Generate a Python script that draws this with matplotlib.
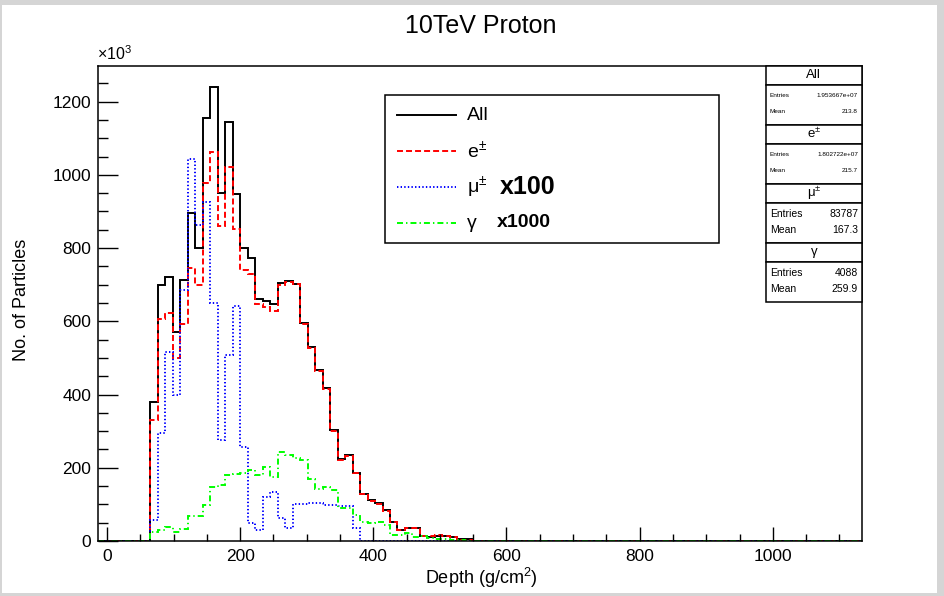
import numpy as np
import matplotlib
matplotlib.use("Agg")
import matplotlib.pyplot as plt
from matplotlib.patches import Rectangle
from matplotlib.lines import Line2D

plt.rcParams['font.family'] = ['Liberation Sans', 'DejaVu Sans']
plt.rcParams['mathtext.fontset'] = 'custom'
plt.rcParams['mathtext.rm'] = 'Liberation Sans'
plt.rcParams['mathtext.it'] = 'Liberation Sans:italic'
plt.rcParams['lines.scale_dashes'] = False

# --- data (counts in units of 10^3, per depth bin) ---
bin_lo, bin_hi, n_bins = -13.5, 1133.5, 102
first_bin = 7  # index of first filled bin (~65 g/cm2)

all_vals = [379, 699, 722, 572, 713, 897, 800, 1155, 1240, 950, 1145, 948, 800, 774,
            662, 655, 647, 705, 710, 703, 595, 530, 466, 418, 303, 225, 235, 187,
            129, 111, 103, 85, 53, 30, 36, 36, 14, 12, 14, 14, 10, 5, 5]
ele_vals = [330, 607, 624, 501, 592, 745, 698, 977, 1062, 859, 1021, 853, 741, 730,
            646, 639, 628, 698, 706, 701, 592, 527, 463, 415, 300, 222, 232, 185,
            127, 109, 101, 83, 51, 29, 35, 35, 14, 13, 16, 15, 10, 4, 4]
mu_vals = [57, 294, 516, 398, 685, 1044, 862, 925, 650, 277, 507, 643, 257, 50,
           30, 120, 134, 62, 35, 100, 101, 103, 104, 98, 97, 96, 95, 35]
gam_vals = [24, 30, 37, 24, 32, 69, 68, 98, 148, 153, 180, 183, 186, 193,
            180, 203, 175, 243, 235, 228, 221, 168, 141, 148, 139, 89, 89, 70,
            52, 50, 52, 45, 16, 16, 21, 12, 14, 8, 5, 5, 3, 3]

stats = [("All", "1.953667e+07", "213.8", 4.6),
         (r"e$^{\pm}$", "1.802722e+07", "215.7", 4.6),
         (r"μ$^{\pm}$", "83787", "167.3", 7.5),
         ("γ", "4088", "259.9", 7.5)]

edges = np.linspace(bin_lo, bin_hi, n_bins + 1)


def full(vals):
    h = np.zeros(n_bins)
    h[first_bin:first_bin + len(vals)] = vals
    return h


W, H = 944, 596
fig = plt.figure(figsize=(W / 100, H / 100), dpi=100)
fig.patch.set_facecolor('#d5d5d5')


def fx(x):
    return x / W


def fy(y):
    return 1 - y / H


# white canvas
fig.patches.append(Rectangle((fx(2), fy(593)), fx(937) - fx(2), fy(5) - fy(593),
                             transform=fig.transFigure, facecolor='white',
                             edgecolor='none', zorder=-5))

ax = fig.add_axes([fx(98), fy(541), fx(861.7) - fx(98), fy(65.7) - fy(541)])
ax.set_facecolor('white')

lw = 1.4
ax.stairs(full(all_vals), edges, color='black', lw=lw, baseline=None)
ax.stairs(full(ele_vals), edges, color='#ff0000', lw=lw, baseline=None,
          linestyle=(0, (4.3, 2.2)))
ax.stairs(full(mu_vals), edges, color='#0000ff', lw=lw, baseline=None,
          linestyle=(0, (1.0, 1.6)))
ax.stairs(full(gam_vals), edges, color='#00ff00', lw=lw, baseline=None,
          linestyle=(0, (4.3, 2.2, 1.0, 2.2)))

ax.set_xlim(bin_lo, bin_hi)
ax.set_ylim(0, 1298)
ax.set_xticks(np.arange(0, 1001, 200))
ax.set_xticks(np.arange(0, 1134, 50), minor=True)
ax.set_yticks(np.arange(0, 1201, 200))
ax.set_yticks(np.arange(0, 1298, 50), minor=True)
ax.tick_params(axis='both', which='both', direction='in', top=False, right=False,
               labelsize=12.5, width=1.0, colors='black')
ax.tick_params(axis='x', which='major', length=10, pad=6)
ax.tick_params(axis='x', which='minor', length=5)
ax.tick_params(axis='y', which='major', length=14.5, pad=5)
ax.tick_params(axis='y', which='minor', length=7.2)
for s in ax.spines.values():
    s.set_linewidth(1.1)

fig.text(fx(481), fy(26), "10TeV Proton", ha='center', va='center', fontsize=18)
fig.text(fx(97), fy(54), r"$\times$10$^{3}$", ha='left', va='center', fontsize=11.5)
fig.text(fx(22), fy(300), "No. of Particles", ha='center', va='center',
         rotation=90, fontsize=13)
fig.text(fx(481), fy(578), "Depth (g/cm$^{2}$)", ha='center', va='center', fontsize=13)

# legend box
fig.patches.append(Rectangle((fx(385), fy(243)), fx(719) - fx(385), fy(95) - fy(243),
                             transform=fig.transFigure, facecolor='white',
                             edgecolor='black', lw=1.1, zorder=5))
leg_rows = [("All", 'black', '-', 115),
            (r"e$^{\pm}$", '#ff0000', (0, (4.3, 2.2)), 151),
            (r"μ$^{\pm}$", '#0000ff', (0, (1.0, 1.6)), 187),
            ("γ", '#00ff00', (0, (4.3, 2.2, 1.0, 2.2)), 223)]
for label, col, ls, y in leg_rows:
    fig.lines.append(Line2D([fx(397), fx(456)], [fy(y), fy(y)], color=col, lw=lw,
                            linestyle=ls, transform=fig.transFigure, zorder=6))
    fig.text(fx(467), fy(y), label, ha='left', va='center', fontsize=14, zorder=6)
fig.text(fx(500), fy(187), "x100", ha='left', va='center', fontsize=18,
         fontweight='bold', zorder=6)
fig.text(fx(497), fy(222), "x1000", ha='left', va='center', fontsize=14,
         fontweight='bold', zorder=6)

# stats boxes
bx0, bx1 = 766, 861.7
y = 65.7
for name, entries, mean, fs in stats:
    fig.patches.append(Rectangle((fx(bx0), fy(y + 19)), fx(bx1) - fx(bx0),
                                 fy(y) - fy(y + 19), transform=fig.transFigure,
                                 facecolor='white', edgecolor='black', lw=1.1, zorder=5))
    fig.text(fx((bx0 + bx1) / 2), fy(y + 9.5), name, ha='center', va='center',
             fontsize=9.5, zorder=6)
    y += 19
    hgt = 40
    fig.patches.append(Rectangle((fx(bx0), fy(y + hgt)), fx(bx1) - fx(bx0),
                                 fy(y) - fy(y + hgt), transform=fig.transFigure,
                                 facecolor='white', edgecolor='black', lw=1.1, zorder=5))
    fig.text(fx(770), fy(y + 11), "Entries", ha='left', va='center', fontsize=fs, zorder=6)
    fig.text(fx(858), fy(y + 11), entries, ha='right', va='center', fontsize=fs, zorder=6)
    fig.text(fx(770), fy(y + 27), "Mean", ha='left', va='center', fontsize=fs, zorder=6)
    fig.text(fx(858), fy(y + 27), mean, ha='right', va='center', fontsize=fs, zorder=6)
    y += hgt

fig.savefig("out.png", dpi=100, facecolor=fig.get_facecolor())
